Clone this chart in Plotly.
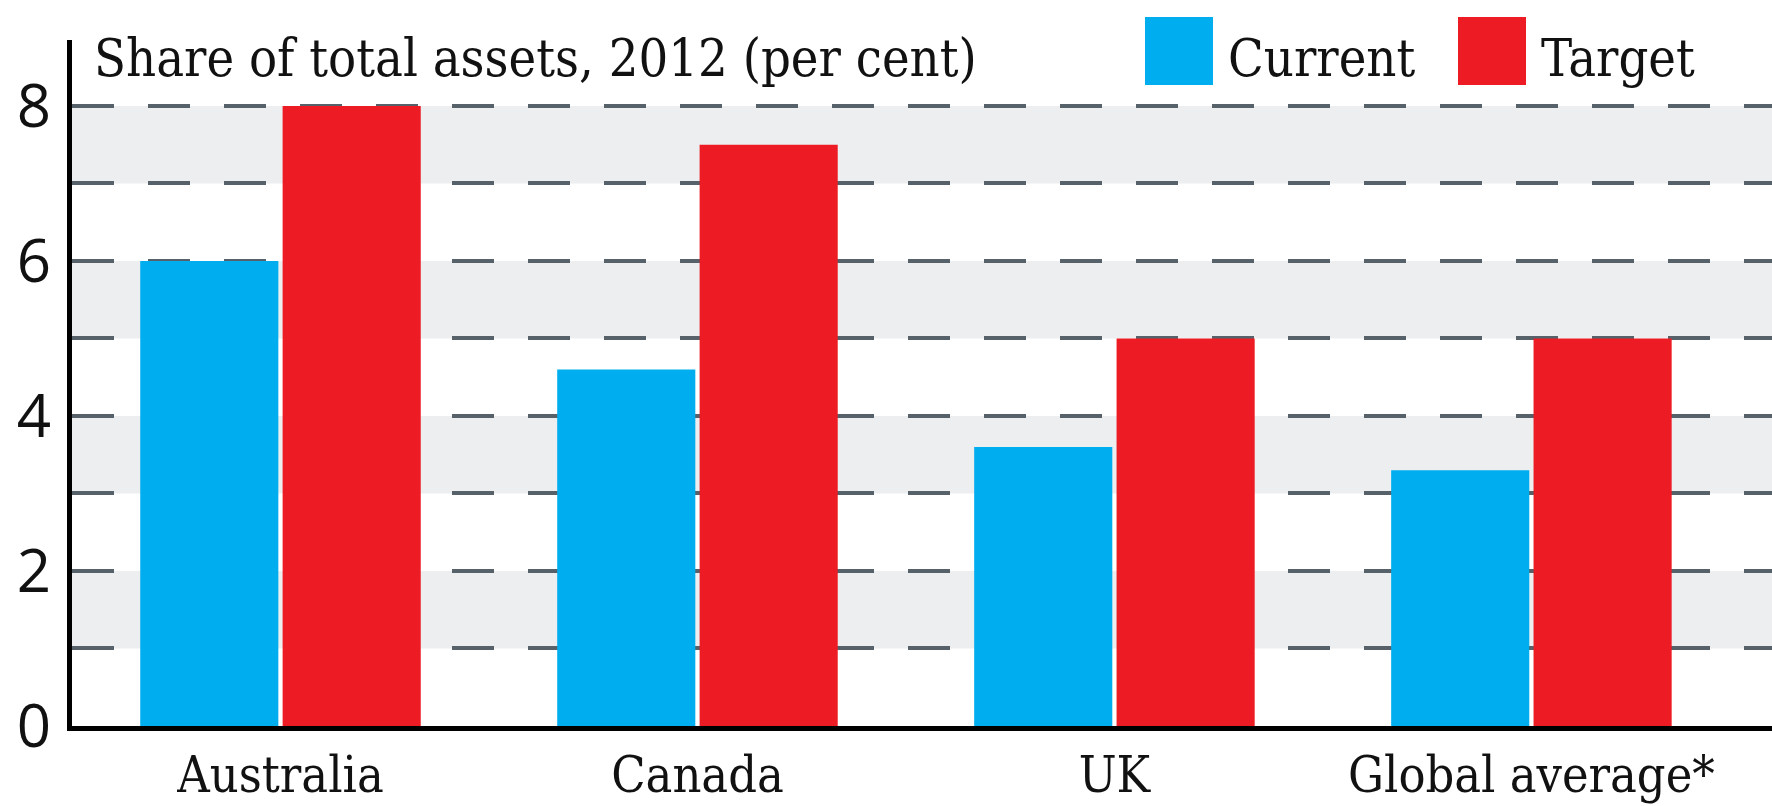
import plotly.graph_objects as go

categories = ["Australia", "Canada", "UK", "Global average*"]
current = [6.0, 4.6, 3.6, 3.3]
target = [8.0, 7.5, 5.0, 5.0]
y_tick_vals = [0, 2, 4, 6, 8]
y_tick_text = ["0", "2", "4", "6", "8"]
band_ranges = [(1, 2), (3, 4), (5, 6), (7, 8)]

BLUE = "#00aeef"
RED = "#ed1c24"
SERIF = "DejaVu Serif Condensed"
SANS = "Open Sans"

W, H = 1772, 806
L, R, T, B = 72, 0, 40, 80

def px_x(p):
    return (p - L) / (W - L - R)

def px_y(p):
    return (H - B - p) / (H - T - B)

fig = go.Figure()
fig.add_trace(go.Bar(x=categories, y=current, name="Current", marker_color=BLUE, marker_line_width=0))
fig.add_trace(go.Bar(x=categories, y=target, name="Target", marker_color=RED, marker_line_width=0))

shapes = []
for lo, hi in band_ranges:
    shapes.append(dict(type="rect", xref="paper", yref="y", x0=0, x1=1, y0=lo, y1=hi,
                       fillcolor="#eceef0", line_width=0, layer="below"))
# legend swatches
shapes.append(dict(type="rect", xref="paper", yref="paper", x0=px_x(1145), x1=px_x(1213),
                   y0=px_y(85), y1=px_y(17), fillcolor=BLUE, line_width=0))
shapes.append(dict(type="rect", xref="paper", yref="paper", x0=px_x(1458), x1=px_x(1526),
                   y0=px_y(85), y1=px_y(17), fillcolor=RED, line_width=0))

annotations = [
    dict(text="Share of total assets, 2012 (per cent)", xref="paper", yref="paper",
         x=px_x(92), y=px_y(58), xanchor="left", yanchor="middle", showarrow=False,
         font=dict(family=SERIF, size=52, color="#111111")),
    dict(text="Current", xref="paper", yref="paper",
         x=px_x(1226), y=px_y(58), xanchor="left", yanchor="middle", showarrow=False,
         font=dict(family=SERIF, size=52, color="#111111")),
    dict(text="Target", xref="paper", yref="paper",
         x=px_x(1539), y=px_y(58), xanchor="left", yanchor="middle", showarrow=False,
         font=dict(family=SERIF, size=52, color="#111111")),
]

fig.update_layout(
    width=W, height=H,
    margin=dict(l=L, r=R, t=T, b=B, pad=0),
    paper_bgcolor="white", plot_bgcolor="white",
    barmode="group", bargap=0.317, bargroupgap=0.03,
    showlegend=False,
    shapes=shapes, annotations=annotations,
    xaxis=dict(
        range=[-0.5, 3.577], showline=True, linecolor="black", linewidth=5,
        showgrid=False, ticks="", ticklabelstandoff=1, automargin=False,
        tickfont=dict(family=SERIF, size=50, color="#111111"),
    ),
    yaxis=dict(
        range=[0, 8.85], showline=True, linecolor="black", linewidth=5,
        tickmode="array", tickvals=y_tick_vals, ticktext=y_tick_text,
        showgrid=True, gridcolor="#56616a", gridwidth=4, griddash="42px,34px",
        zeroline=False, ticks="", ticklabelstandoff=4, automargin=False,
        tickfont=dict(family=SANS, size=60, color="#111111"),
        minor=dict(dtick=1, tick0=0, showgrid=True, gridcolor="#56616a", gridwidth=4,
                   griddash="42px,34px"),
    ),
)

fig.write_html("out.html")
